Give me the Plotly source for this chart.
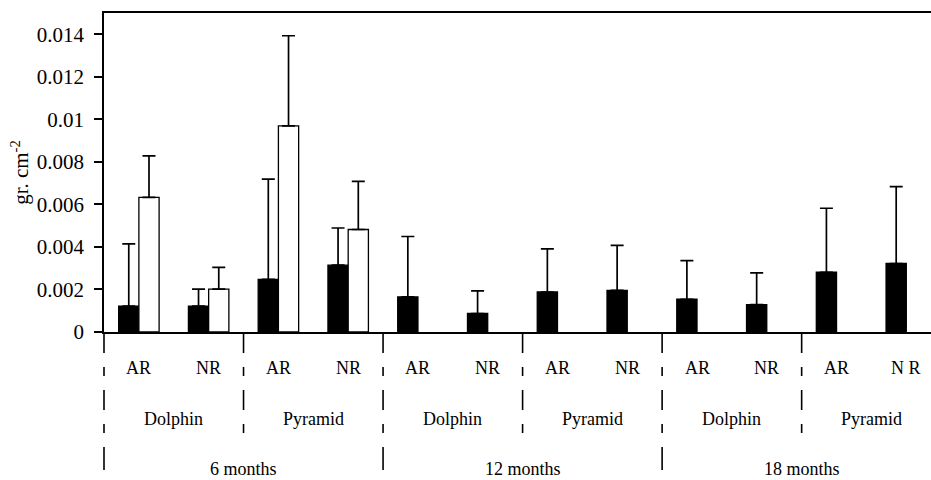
import plotly.graph_objects as go

# ---------------- data ----------------
months = ["6 months", "12 months", "18 months"]
sites = ["Dolphin", "Pyramid", "Dolphin", "Pyramid", "Dolphin", "Pyramid"]
treatments = ["AR", "NR", "AR", "NR", "AR", "NR", "AR", "NR", "AR", "NR", "AR", "N R"]

black_vals = [0.00122, 0.00122, 0.00247, 0.00314,
              0.00165, 0.00087, 0.00188, 0.00196,
              0.00154, 0.00129, 0.00281, 0.00322]
black_err_top = [0.00414, 0.00202, 0.00719, 0.00489,
                 0.00449, 0.00193, 0.00391, 0.00407,
                 0.00336, 0.00278, 0.00582, 0.00684]

white_vals = [0.00633, 0.00202, 0.00969, 0.00482,
              None, None, None, None,
              None, None, None, None]
white_err_top = [0.00828, 0.00304, 0.01393, 0.00708,
                 None, None, None, None,
                 None, None, None, None]

y_tickvals = [0, 0.002, 0.004, 0.006, 0.008, 0.010, 0.012, 0.014]
y_ticktext = ["0", "0.002", "0.004", "0.006", "0.008", "0.01", "0.012", "0.014"]
y_title = "gr. cm<sup>-2</sup>"

# ---------------- figure ----------------
FONT = "Liberation Serif, Times New Roman, serif"
W, H = 931, 480
M_L, M_R, M_T, M_B = 104, 0, 13, 148
PLOT_H = H - M_T - M_B
X_RANGE = [-0.5, 11.354]

n = len(treatments)
x_pos = list(range(n))

def plus(tops, vals):
    return [None if (t is None or v is None) else t - v for t, v in zip(tops, vals)]

fig = go.Figure()
fig.add_trace(go.Bar(
    x=x_pos, y=black_vals,
    marker=dict(color="black", line=dict(color="black", width=1.3)),
    error_y=dict(type="data", symmetric=False,
                 array=plus(black_err_top, black_vals),
                 arrayminus=[0] * n,
                 width=6.5, thickness=1.7, color="black"),
    showlegend=False, hoverinfo="skip",
))
fig.add_trace(go.Bar(
    x=x_pos, y=white_vals,
    marker=dict(color="white", line=dict(color="black", width=1.3)),
    error_y=dict(type="data", symmetric=False,
                 array=plus(white_err_top, white_vals),
                 arrayminus=[0] * n,
                 width=6.5, thickness=1.7, color="black"),
    showlegend=False, hoverinfo="skip",
))

def py(pix):
    """pixel row (from top of page) -> paper y"""
    return (H - M_B - pix) / PLOT_H

annotations = []
for i, t in enumerate(treatments):
    annotations.append(dict(x=i, y=py(368), xref="x", yref="paper", text=t,
                            showarrow=False, yanchor="middle", xanchor="center",
                            font=dict(family=FONT, size=18, color="black")))
for j, s in enumerate(sites):
    annotations.append(dict(x=2 * j + 0.5, y=py(419), xref="x", yref="paper", text=s,
                            showarrow=False, yanchor="middle", xanchor="center",
                            font=dict(family=FONT, size=18, color="black")))
for k, m in enumerate(months):
    annotations.append(dict(x=4 * k + 1.5, y=py(469), xref="x", yref="paper", text=m,
                            showarrow=False, yanchor="middle", xanchor="center",
                            font=dict(family=FONT, size=18, color="black")))

def px_x(xv):
    return (xv - X_RANGE[0]) / (X_RANGE[1] - X_RANGE[0])

shapes = []
common_segs = [(332, 353), (367, 376), (390, 410), (424, 433)]
month_seg = (447, 470)
for j in range(len(sites)):
    b = 2 * j - 0.5
    segs = list(common_segs)
    if j % 2 == 0:
        segs.append(month_seg)
    for (a, c) in segs:
        shapes.append(dict(type="line", xref="paper", yref="paper",
                           x0=px_x(b), x1=px_x(b), y0=py(a), y1=py(c),
                           line=dict(color="black", width=1.6)))

fig.update_layout(
    width=W, height=H,
    margin=dict(l=M_L, r=M_R, t=M_T, b=M_B, autoexpand=False),
    paper_bgcolor="white", plot_bgcolor="white",
    barmode="group", bargap=0.42, bargroupgap=0,
    font=dict(family=FONT, color="black"),
    annotations=annotations, shapes=shapes,
    xaxis=dict(range=X_RANGE, showline=True, mirror=True, linecolor="black",
               linewidth=1.5, showticklabels=False, ticks="", showgrid=False,
               zeroline=False, fixedrange=True),
    yaxis=dict(range=[0, 0.015], showline=True, linecolor="black", linewidth=1.5,
               ticks="outside", ticklen=8, tickwidth=1.5, tickcolor="black",
               tickvals=y_tickvals, ticktext=y_ticktext,
               tickfont=dict(family=FONT, size=21, color="black"),
               ticklabelstandoff=6,
               showgrid=False, zeroline=False, fixedrange=True,
               title=dict(text=y_title, standoff=2,
                          font=dict(family=FONT, size=21, color="black"))),
)

fig.write_html("out.html",
               config={"displayModeBar": False},
               post_script="document.body.style.margin='0';document.body.style.overflow='hidden';")
